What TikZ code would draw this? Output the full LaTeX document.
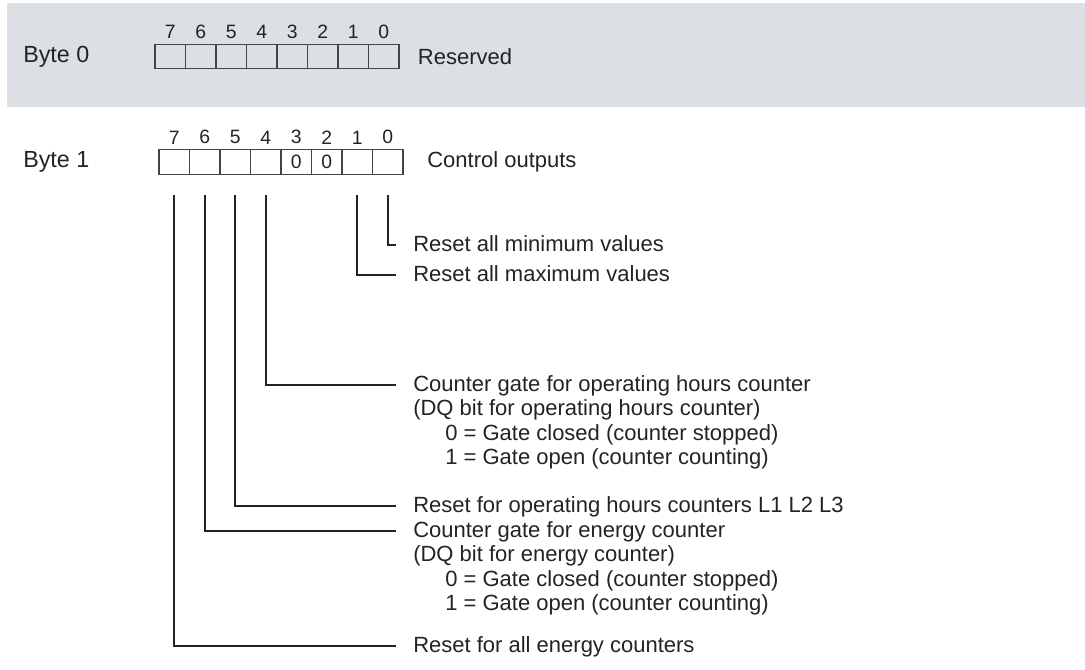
\documentclass[tikz,border=0pt]{standalone}
\usepackage{fontspec}
\setmainfont{Liberation Sans}
\usetikzlibrary{positioning}

\definecolor{bandgray}{RGB}{220,223,227}
\definecolor{inkgray}{RGB}{35,35,35}

\begin{document}
\begin{tikzpicture}[
    x=0.75pt, y=-0.75pt,
    cell/.style={draw=inkgray!85, line width=0.8pt, minimum width=22.9pt, minimum height=18.5pt,
                 inner sep=0pt, outer sep=0pt, font=\fontsize{14.5}{16}\selectfont, text=inkgray},
    bitnum/.style={inner sep=0pt, font=\fontsize{14.5}{16}\selectfont, text=inkgray},
    bytelbl/.style={anchor=west, inner sep=0pt, font=\fontsize{17.5}{18}\selectfont, text=inkgray},
    lbl/.style={anchor=west, inner xsep=12.75pt, inner ysep=0pt, text height=13.5pt, text depth=4.5pt,
                font=\fontsize{16.5}{18}\selectfont, text=inkgray},
    wire/.style={draw=inkgray, line width=1.2pt}
]
\useasboundingbox (0,0) rectangle (1085,669);

% --- Byte 0 (grey band) ---
\fill[bandgray] (7,3) rectangle (1085,107);
\node[bytelbl] (byteA) at (23,57) {Byte 0};
\foreach \b in {0,...,7} {
  \node[cell] (bA\b) at ({170.25+30.5*(7-\b)},56.5) {};
  \node[bitnum, above=4pt of bA\b] (nA\b) {\b};
}
\node[bytelbl, font=\fontsize{16.5}{18}\selectfont, right=14pt of bA0] (reserved) {Reserved};

% --- Byte 1 ---
\node[bytelbl] (byteB) at (23,162) {Byte 1};
\foreach \b/\v in {7/,6/,5/,4/,3/0,2/0,1/,0/} {
  \node[cell] (bB\b) at ({174.25+30.5*(7-\b)},162) {\v};
  \node[bitnum, above=4pt of bB\b] (nB\b) {\b};
}
\node[bytelbl, font=\fontsize{16.5}{18}\selectfont, right=18pt of bB0] (ctrl) {Control outputs};

% --- Bit labels ---
\node[lbl] (lblMin) at (396,245) {Reset all minimum values};
\node[lbl] (lblMax) at (396,275) {Reset all maximum values};

\node[lbl] (lblGateOp) at (396,385) {Counter gate for operating hours counter};
\node[lbl, below=0pt of lblGateOp.south west, anchor=north west] (lblGateOpA) {(DQ bit for operating hours counter)};
\node[lbl, below=0pt of lblGateOpA.south west, anchor=north west] (lblGateOpB) {\hspace*{24pt}0 = Gate closed (counter stopped)};
\node[lbl, below=0pt of lblGateOpB.south west, anchor=north west] (lblGateOpC) {\hspace*{24pt}1 = Gate open (counter counting)};

\node[lbl] (lblResetOp) at (396,506) {Reset for operating hours counters L1 L2 L3};

\node[lbl] (lblGateEn) at (396,531) {Counter gate for energy counter};
\node[lbl, below=0pt of lblGateEn.south west, anchor=north west] (lblGateEnA) {(DQ bit for energy counter)};
\node[lbl, below=0pt of lblGateEnA.south west, anchor=north west] (lblGateEnB) {\hspace*{24pt}0 = Gate closed (counter stopped)};
\node[lbl, below=0pt of lblGateEnB.south west, anchor=north west] (lblGateEnC) {\hspace*{24pt}1 = Gate open (counter counting)};

\node[lbl] (lblResetEn) at (396,646) {Reset for all energy counters};

% --- Connectors from the bits ---
\draw[wire] ([yshift=-15.75pt]bB0.south) |- (lblMin.west);
\draw[wire] ([yshift=-15.75pt]bB1.south) |- (lblMax.west);
\draw[wire] ([yshift=-15.75pt]bB4.south) |- (lblGateOp.west);
\draw[wire] ([yshift=-15.75pt]bB5.south) |- (lblResetOp.west);
\draw[wire] ([yshift=-15.75pt]bB6.south) |- (lblGateEn.west);
\draw[wire] ([yshift=-15.75pt]bB7.south) |- (lblResetEn.west);

\end{tikzpicture}
\end{document}
